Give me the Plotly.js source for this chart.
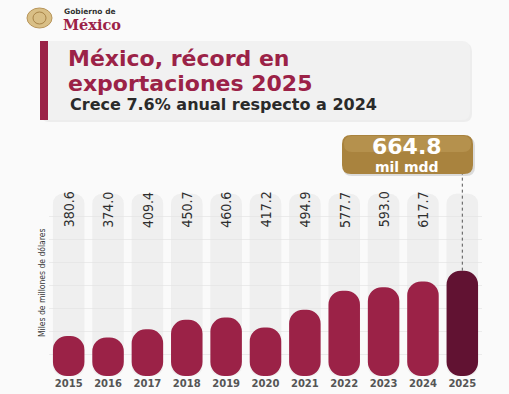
<!DOCTYPE html>
<html>
<head>
<meta charset="utf-8">
<script src="https://cdn.plot.ly/plotly-3.0.1.min.js"></script>
<style>
  html, body { margin: 0; padding: 0; background: #fafafa; }
  #chart { width: 509px; height: 394px; }
</style>
</head>
<body>
<div id="chart"></div>
<script>
// ---- data ----
const years = ['2015','2016','2017','2018','2019','2020','2021','2022','2023','2024','2025'];
const values = [380.6, 374.0, 409.4, 450.7, 460.6, 417.2, 494.9, 577.7, 593.0, 617.7, 664.8];
const valueLabels = ['380.6','374.0','409.4','450.7','460.6','417.2','494.9','577.7','593.0','617.7','664.8'];
const highlightYear = '2025';
const highlightUnit = 'mil mdd';
const titleLine1 = 'México, récord en';
const titleLine2 = 'exportaciones 2025';
const subtitleText = 'Crece 7.6% anual respecto a 2024';
const yTitleText = 'Miles de millones de dólares';
const logoSmall = 'Gobierno de';
const logoBig = 'México';

// ---- layout geometry (px) ----
const W = 509, H = 394;
const M = { l: 49, r: 27, t: 193, b: 18 };
const PW = W - M.l - M.r, PH = H - M.t - M.b;
const yMin = 206, yMax = 1003, trackTop = 1000;
const px = x => (x - M.l) / PW;          // pixel x -> paper
const py = y => (H - M.b - y) / PH;      // pixel y -> paper

function roundRect(x0, y0, x1, y1, r) {
  const X = v => px(v).toFixed(5), Y = v => py(v).toFixed(5);
  return `M${X(x0 + r)},${Y(y0)} L${X(x1 - r)},${Y(y0)} Q${X(x1)},${Y(y0)} ${X(x1)},${Y(y0 + r)} ` +
         `L${X(x1)},${Y(y1 - r)} Q${X(x1)},${Y(y1)} ${X(x1 - r)},${Y(y1)} ` +
         `L${X(x0 + r)},${Y(y1)} Q${X(x0)},${Y(y1)} ${X(x0)},${Y(y1 - r)} ` +
         `L${X(x0)},${Y(y0 + r)} Q${X(x0)},${Y(y0)} ${X(x0 + r)},${Y(y0)} Z`;
}

const maroon = '#9b2247';
const maroonDark = '#611232';
const gold = '#a9833e';

const hiIdx = years.indexOf(highlightYear);
const hiValue = values[hiIdx];

const track = {
  type: 'bar',
  x: years,
  y: years.map(() => trackTop - yMin),
  base: yMin,
  marker: { color: 'rgba(228,228,228,0.5)', cornerradius: 10 },
  hoverinfo: 'skip',
  showlegend: false
};

const bars = {
  type: 'bar',
  x: years,
  y: values.map(v => v - yMin),
  base: yMin,
  customdata: values,
  marker: {
    color: years.map(y => (y === highlightYear ? maroonDark : maroon)),
    cornerradius: 14,
    line: { width: 0 }
  },
  hovertemplate: '%{x}: %{customdata}<extra></extra>',
  showlegend: false
};

const valueAnnotations = years.map((yr, i) => ({
  xref: 'x', yref: 'y', x: i, y: trackTop,
  xanchor: 'center', yanchor: 'top', yshift: 4,
  text: i === hiIdx ? '' : valueLabels[i],
  textangle: -90, showarrow: false,
  font: { family: '"Liberation Sans Narrow", "DejaVu Sans Condensed", sans-serif', size: 14, color: '#2e2e2e' }
})).filter(a => a.text !== '');

const layout = {
  width: W, height: H,
  margin: { l: M.l, r: M.r, t: M.t, b: M.b, pad: 0 },
  paper_bgcolor: '#fafafa',
  plot_bgcolor: 'rgba(0,0,0,0)',
  barmode: 'overlay',
  barcornerradius: 14,
  bargap: 0.2,
  title: {
    text: titleLine1,
    font: { family: '"DejaVu Sans", sans-serif', size: 22, color: maroon, weight: 'bold' },
    xref: 'container', yref: 'container',
    x: 68 / W, xanchor: 'left',
    y: 1 - 58 / H, yanchor: 'middle'
  },
  xaxis: {
    type: 'category',
    range: [-0.5, years.length - 0.5],
    autorange: false,
    showgrid: false, zeroline: false, showline: false,
    ticks: '',
    tickfont: { family: '"DejaVu Sans", sans-serif', size: 10, color: '#555', weight: 'bold' },
    fixedrange: true
  },
  yaxis: {
    range: [yMin, yMax],
    autorange: false,
    tick0: 0, dtick: 100,
    showgrid: true, gridcolor: '#ebebeb', gridwidth: 1,
    zeroline: false, showline: false, showticklabels: false, ticks: '',
    fixedrange: true
  },
  shapes: [
    { type: 'path', xref: 'paper', yref: 'paper', path: roundRect(41, 43, 472, 122, 8),
      fillcolor: 'rgba(0,0,0,0.05)', line: { width: 0 }, layer: 'below' },
    { type: 'path', xref: 'paper', yref: 'paper', path: roundRect(40, 41, 470, 120, 8),
      fillcolor: '#f1f1f1', line: { width: 0 }, layer: 'below' },
    { type: 'rect', xref: 'paper', yref: 'paper', x0: px(40), x1: px(48), y0: py(41), y1: py(120),
      fillcolor: maroon, line: { width: 0 }, layer: 'above' },
    { type: 'circle', xref: 'paper', yref: 'paper', x0: px(27), x1: px(52), y0: py(8), y1: py(28),
      fillcolor: '#d9bf86', line: { color: '#b8955a', width: 1 }, layer: 'above' },
    { type: 'circle', xref: 'paper', yref: 'paper', x0: px(33), x1: px(46), y0: py(12), y1: py(24),
      fillcolor: 'rgba(255,255,255,0)', line: { color: '#a88448', width: 1 }, layer: 'above' },
    { type: 'line', xref: 'x', yref: 'paper',
      x0: hiIdx, x1: hiIdx,
      y0: (hiValue - yMin) / (yMax - yMin), y1: py(174),
      line: { color: '#555', width: 1, dash: 'dot' }, layer: 'above' },
    { type: 'path', xref: 'paper', yref: 'paper', path: roundRect(343, 137, 475, 176, 9),
      fillcolor: 'rgba(0,0,0,0.12)', line: { width: 0 }, layer: 'above' },
    { type: 'path', xref: 'paper', yref: 'paper', path: roundRect(342, 135, 473, 174, 9),
      fillcolor: gold, line: { width: 0 }, layer: 'above' },
    { type: 'path', xref: 'paper', yref: 'paper', path: roundRect(344, 136, 471, 152, 8),
      fillcolor: 'rgba(255,230,170,0.15)', line: { width: 0 }, layer: 'above' }
  ],
  annotations: [
    { xref: 'paper', yref: 'paper', x: px(62), y: py(11), xanchor: 'left', yanchor: 'middle',
      text: logoSmall, showarrow: false,
      font: { family: '"DejaVu Sans", sans-serif', size: 7.5, color: '#333', weight: 'bold' } },
    { xref: 'paper', yref: 'paper', x: px(61), y: py(24.5), xanchor: 'left', yanchor: 'middle',
      text: logoBig, showarrow: false,
      font: { family: '"DejaVu Serif", serif', size: 14.5, color: maroon, weight: 'bold' } },
    { xref: 'paper', yref: 'paper', x: px(66), y: py(83), xanchor: 'left', yanchor: 'middle',
      text: titleLine2, showarrow: false,
      font: { family: '"DejaVu Sans", sans-serif', size: 22, color: maroon, weight: 'bold' } },
    { xref: 'paper', yref: 'paper', x: px(68), y: py(105), xanchor: 'left', yanchor: 'middle',
      text: subtitleText, showarrow: false,
      font: { family: '"DejaVu Sans", sans-serif', size: 16, color: '#2a2a2a', weight: 'bold' } },
    { xref: 'paper', yref: 'paper', x: px(407), y: py(154.5), xanchor: 'center', yanchor: 'middle',
      text: '<span style="font-size:22px">' + valueLabels[hiIdx] + '</span><br>' + highlightUnit,
      showarrow: false,
      font: { family: '"DejaVu Sans", sans-serif', size: 14, color: '#ffffff', weight: 'bold' } },
    { xref: 'paper', yref: 'paper', x: px(42), y: py(283), xanchor: 'center', yanchor: 'middle',
      text: yTitleText, textangle: -90, showarrow: false,
      font: { family: '"Liberation Sans Narrow", "DejaVu Sans Condensed", sans-serif', size: 8.5, color: '#333' } }
  ].concat(valueAnnotations)
};

Plotly.newPlot('chart', [track, bars], layout, { displayModeBar: false, staticPlot: true });
</script>
</body>
</html>
